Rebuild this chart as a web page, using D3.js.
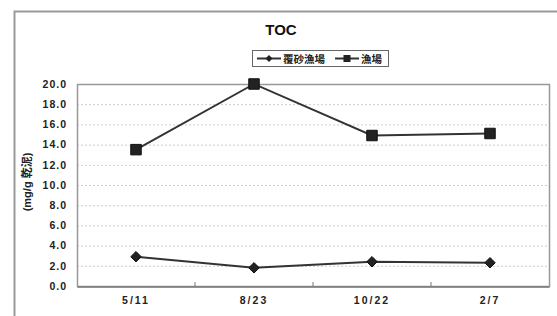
<!DOCTYPE html>
<html>
<head>
<meta charset="utf-8">
<script src="https://cdn.jsdelivr.net/npm/d3@7"></script>
<style>
  body { margin: 0; background: #fff; }
  text { font-family: "Liberation Sans", "Noto Sans CJK JP", sans-serif; }
</style>
</head>
<body>
<svg width="557" height="316"></svg>
<script>
// data
const dates = ["5/11", "8/23", "10/22", "2/7"];
const fukusa = [2.9, 1.8, 2.4, 2.3];   // 覆砂漁場
const gyojo = [13.5, 20.0, 14.9, 15.1]; // 漁場
const yTicks = [0, 2, 4, 6, 8, 10, 12, 14, 16, 18, 20];

var svg = d3.select("svg"),
    width = +svg.attr("width"),
    height = +svg.attr("height");

const plot = {left: 77, right: 549, top: 84, bottom: 286};

// outer chart frame (cut off at right / bottom)
svg.append("path")
  .attr("d", "M14.5,316 L14.5,11.5 L557,11.5")
  .attr("fill", "none")
  .attr("stroke", "#999")
  .attr("stroke-width", 2);

const x = d3.scaleBand().domain(dates).range([plot.left, plot.right]);
const y = d3.scaleLinear().domain([0, 20]).range([plot.bottom, plot.top]);

// dotted gridlines
svg.append("g")
  .selectAll("line")
  .data(yTicks.filter(d => d > 0 && d < 20))
  .join("line")
    .attr("x1", plot.left).attr("x2", plot.right)
    .attr("y1", d => y(d) + 0.5).attr("y2", d => y(d) + 0.5)
    .attr("stroke", "#ccc")
    .attr("stroke-dasharray", "2,2");

// plot area border
svg.append("rect")
  .attr("x", plot.left + 0.5).attr("y", plot.top + 0.5)
  .attr("width", plot.right - plot.left).attr("height", plot.bottom - plot.top)
  .attr("fill", "none")
  .attr("stroke", "#999")
  .attr("stroke-width", 1.5);

// x axis
const xAxis = svg.append("g")
  .attr("transform", "translate(0," + (plot.bottom + 0.5) + ")")
  .call(d3.axisBottom(x).tickSize(0).tickPadding(10));
xAxis.select(".domain").attr("stroke", "#777").attr("stroke-width", 1.5);
xAxis.selectAll("text")
  .attr("font-size", 10.5).attr("font-weight", "bold").attr("fill", "#222")
  .attr("letter-spacing", 2);

// category separator ticks
svg.append("g")
  .selectAll("line")
  .data(dates.slice(1))
  .join("line")
    .attr("x1", d => x(d)).attr("x2", d => x(d))
    .attr("y1", plot.bottom - 4).attr("y2", plot.bottom)
    .attr("stroke", "#777");

// y axis labels
const yAxis = svg.append("g")
  .attr("transform", "translate(" + plot.left + ",0)")
  .call(d3.axisLeft(y).tickValues(yTicks).tickFormat(d3.format(".1f")).tickSize(0).tickPadding(10));
yAxis.select(".domain").remove();
yAxis.selectAll("text")
  .attr("font-size", 10.5).attr("font-weight", "bold").attr("fill", "#222")
  .attr("letter-spacing", 1);

// y axis title
svg.append("text")
  .attr("transform", "translate(31,182) rotate(-90)")
  .attr("text-anchor", "middle")
  .attr("font-size", 11).attr("font-weight", "bold").attr("fill", "#222")
  .text("(mg/g 乾泥)");

// title
svg.append("text")
  .attr("x", 281).attr("y", 35)
  .attr("text-anchor", "middle")
  .attr("font-size", 15).attr("font-weight", "bold").attr("fill", "#111")
  .text("TOC");

const line = d3.line()
  .x((d, i) => x(dates[i]) + x.bandwidth() / 2)
  .y(d => y(d));

const series = [
  {name: "覆砂漁場", values: fukusa, shape: d3.symbolDiamond2, size: 70},
  {name: "漁場", values: gyojo, shape: d3.symbolSquare, size: 110}
];

series.forEach(s => {
  svg.append("path")
    .datum(s.values)
    .attr("fill", "none")
    .attr("stroke", "#333")
    .attr("stroke-width", 2)
    .attr("d", line);
  svg.append("g")
    .selectAll("path")
    .data(s.values)
    .join("path")
      .attr("transform", (d, i) => "translate(" + (x(dates[i]) + x.bandwidth() / 2) + "," + y(d) + ")")
      .attr("d", d3.symbol().type(s.shape).size(s.size)())
      .attr("fill", "#222")
      .attr("stroke", "#111");
});

// legend
const legend = svg.append("g").attr("transform", "translate(252,50)");
legend.append("rect")
  .attr("x", 0.5).attr("y", 0.5).attr("width", 136).attr("height", 16)
  .attr("fill", "#fff").attr("stroke", "#666");
let lx = 5;
series.forEach(s => {
  legend.append("line")
    .attr("x1", lx).attr("x2", lx + 24).attr("y1", 8.5).attr("y2", 8.5)
    .attr("stroke", "#333").attr("stroke-width", 2);
  legend.append("path")
    .attr("transform", "translate(" + (lx + 12) + ",8.5)")
    .attr("d", d3.symbol().type(s.shape).size(s.size * 0.45)())
    .attr("fill", "#222");
  const t = legend.append("text")
    .attr("x", lx + 26).attr("y", 12.5)
    .attr("font-size", 10.5).attr("font-weight", "bold").attr("fill", "#222")
    .text(s.name);
  lx += 26 + t.node().getComputedTextLength() + 10;
});
</script>
</body>
</html>
